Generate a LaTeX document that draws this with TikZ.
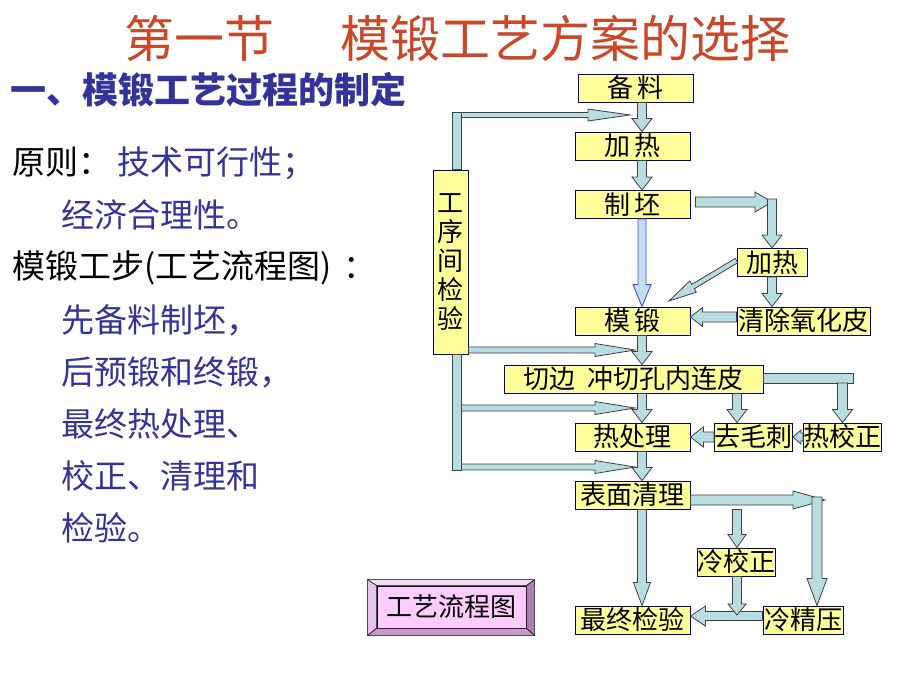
\documentclass[tikz,border=0pt]{standalone}
\usepackage{fontspec}
\setmainfont{Noto Sans CJK SC}
\usetikzlibrary{calc}
\definecolor{titlered}{RGB}{200,72,40}
\definecolor{txtblue}{RGB}{51,51,153}
\definecolor{boxfill}{RGB}{255,255,153}
\definecolor{boxline}{RGB}{0,0,128}
\definecolor{arrfill}{RGB}{183,221,226}
\definecolor{arrline}{RGB}{64,64,64}
\definecolor{arrblue}{RGB}{60,80,230}
\definecolor{arrfillb}{RGB}{195,222,240}
\definecolor{btnfill}{RGB}{255,204,255}
\definecolor{btntop}{RGB}{247,218,247}
\definecolor{btnleft}{RGB}{235,196,235}
\definecolor{btnright}{RGB}{175,125,175}
\definecolor{btnbottom}{RGB}{200,152,200}

% block arrow: [style]{from}{to}{half shaft}{half head}{head length}
\newcommand{\blockarrow}[6][fat]{%
  \coordinate (ba-a) at #2;
  \coordinate (ba-b) at #3;
  \coordinate (ba-c) at ($(ba-b)!#6pt!(ba-a)$);
  \filldraw[#1] ($(ba-a)!#4pt!90:(ba-b)$) -- ($(ba-c)!#4pt!90:(ba-b)$)
    -- ($(ba-c)!#5pt!90:(ba-b)$) -- (ba-b) -- ($(ba-c)!#5pt!-90:(ba-b)$)
    -- ($(ba-c)!#4pt!-90:(ba-b)$) -- ($(ba-a)!#4pt!-90:(ba-b)$) -- cycle;
}

\begin{document}
\begin{tikzpicture}[
        x=1pt, y=-1pt,
        box/.style={rectangle, draw=boxline, fill=boxfill, line width=0.9pt, inner sep=0pt, minimum height=28pt, minimum width=115pt, font=\fontsize{26}{29}\selectfont},
        fat/.style={draw=arrline, fill=arrfill, line width=0.8pt},
        bluearr/.style={draw=arrblue, fill=arrfillb, line width=0.9pt},
        lefttext/.style={anchor=west, inner sep=0pt, font=\fontsize{33}{40}\selectfont},
        btnbox/.style={rectangle, draw=black, fill=btnfill, line width=0.6pt, inner sep=0pt, minimum width=149pt, minimum height=42pt, font=\fontsize{26}{29}\selectfont}
    ]
        \useasboundingbox[fill=white] (0,0) rectangle (920,690);

        \node[font=\fontsize{50}{56}\selectfont, text=titlered] (title) at (457,38) {第一节\hspace{66pt}模锻工艺方案的选择};
        \node[anchor=west, inner sep=0pt, text=txtblue, font=\fontsize{36}{40}\selectfont\bfseries] (sub) at (10,90) {一、模锻工艺过程的制定};

        \node[lefttext] (l1) at (12,163) {原则：\hspace{6pt}{\color{txtblue}技术可行性；}};
        \node[lefttext, text=txtblue] (l2) at (61,215) {经济合理性。};
        \node[lefttext] (l3) at (12,268) {模锻工步(工艺流程图)\hspace{12pt}：};
        \node[lefttext, text=txtblue] (l4) at (61,320) {先备料制坯，};
        \node[lefttext, text=txtblue] (l5) at (61,372) {后预锻和终锻，};
        \node[lefttext, text=txtblue] (l6) at (61,424) {最终热处理、};
        \node[lefttext, text=txtblue] (l7) at (61,476) {校正、清理和};
        \node[lefttext, text=txtblue] (l8) at (61,528) {检验。};

        \node[box, minimum width=115pt] (bl) at (635.5,88) {备\,料};
        \node[box] (jr) at (632.5,146) {加\,热};
        \node[box] (zp) at (632.5,204.5) {制\,坯};
        \node[box, minimum width=35pt, minimum height=184pt, align=center] (jy) at (450.5,262) {工\\序\\间\\检\\验};
        \node[box, minimum width=70pt] (jr2) at (772,262.5) {加热};
        \node[box] (md) at (632.5,321) {模\,锻};
        \node[box, minimum width=133pt] (qc) at (803.5,321) {清除氧化皮};
        \node[box, minimum width=259pt] (qb) at (633.5,379) {切边\hspace{12pt}冲切孔内连皮};
        \node[box] (rc) at (632.5,437) {热处理};
        \node[box, minimum width=71pt] (qm) at (753.5,437) {去毛刺};
        \node[box, minimum width=71pt] (rj) at (842.5,437) {热校正};
        \node[box] (bm) at (632.5,495) {表面清理};
        \node[box, minimum width=73pt] (lj) at (736.5,562) {冷校正};
        \node[box] (zj) at (632.5,620) {最终检验};
        \node[box, minimum width=80pt] (lp) at (803,620) {冷精压};

        \coordinate (mx) at (642,0);
        \coordinate (rx) at (737,0);
        \coordinate (c1) at (772,202);
        \coordinate (c2) at (669,301);
        \coordinate (c3) at (630,115);
        \coordinate (c4) at (635,350);
        \coordinate (c5) at (635,408);
        \coordinate (c6) at (635,467);
        \coordinate (c7) at (817,497);
        \coordinate (c8) at (825,500);
        \coordinate (c9) at (737,615);
        \coordinate (c10) at (853,383);
        \coordinate (fb1) at (456.5,112);
        \coordinate (fb2) at (456.5,470);

        \blockarrow{(bl.south -| mx)}{(jr.north -| mx)}{4.5}{10}{13}
        \blockarrow{(jr.south -| mx)}{(zp.north -| mx)}{4.5}{10}{13}
        \blockarrow[bluearr]{(zp.south -| mx)}{(md.north -| mx)}{4}{9}{22}
        \blockarrow{(md.south -| mx)}{(qb.north -| mx)}{4.5}{10}{13}
        \blockarrow{(qb.south -| mx)}{(rc.north -| mx)}{4.5}{10}{13}
        \blockarrow{(rc.south -| mx)}{(bm.north -| mx)}{4.5}{10}{13}
        \blockarrow{(bm.south -| mx)}{(zj.north -| mx)}{4.5}{8.5}{23}

        \blockarrow{($(zp.east |- c1)+(5,0)$)}{(c1)}{5}{10}{17}
        \blockarrow{($(c1)+(0,-3)$)}{(jr2.north)}{4.5}{10}{13}
        \blockarrow{($(jr2.west)+(0,-2)$)}{(c2)}{2.5}{6.5}{28}
        \blockarrow{(jr2.south)}{(jr2 |- qc.north)}{4.5}{10}{13}
        \blockarrow{($(qc.west)+(0,-4)$)}{($(md.east)+(0,-4)$)}{5}{9.5}{12}

        \blockarrow{(fb1 |- c3)}{(c3)}{2.5}{6}{42}
        \blockarrow{(jy.east |- c4)}{(c4)}{3}{6.5}{40}
        \blockarrow{(fb2 |- c5)}{(c5)}{3}{6.5}{40}
        \blockarrow{(fb2 |- c6)}{(c6)}{3}{6.5}{40}
        \filldraw[fat] ($(fb1)+(-4.5,0)$) rectangle ($(jy.north -| fb1)+(4.5,0)$);
        \filldraw[fat] ($(jy.south -| fb1)+(-4.5,0)$) rectangle ($(fb2)+(4.5,0)$);

        \blockarrow{(qb.south -| rx)}{(qm.north -| rx)}{4.5}{10}{13}
        \filldraw[fat] ($(qb.east)+(0,-6)$) rectangle (c10);
        \blockarrow{(rj.north |- c10)}{(rj.north)}{5}{10}{13}
        \blockarrow{(rj.west)}{(qm.east)}{4}{7}{8}
        \blockarrow{(qm.west)}{(rc.east)}{5}{10}{13}

        \blockarrow{(bm.east |- c8)}{(c8)}{5}{9}{32}
        \blockarrow{(c7)}{(c7 |- lp.north)}{5}{10}{27}
        \blockarrow{(bm.south -| rx)}{(lj.north -| rx)}{4.5}{9}{13}
        \blockarrow{($(lp.west)+(0,-4)$)}{($(zj.east)+(0,-4)$)}{4.5}{10}{15}
        \blockarrow{(lj.south -| rx)}{(c9)}{4.5}{9}{11}

        \node[btnbox] (btn) at (451.5,607) {工艺流程图};
        \filldraw[fill=btntop, draw=black, line width=0.5pt] ($(btn.north west)+(-9,-6)$) -- ($(btn.north east)+(8,-6)$) -- (btn.north east) -- (btn.north west) -- cycle;
        \filldraw[fill=btnleft, draw=black, line width=0.5pt] ($(btn.north west)+(-9,-6)$) -- (btn.north west) -- (btn.south west) -- ($(btn.south west)+(-9,7)$) -- cycle;
        \filldraw[fill=btnright, draw=black, line width=0.5pt] ($(btn.north east)+(8,-6)$) -- (btn.north east) -- (btn.south east) -- ($(btn.south east)+(8,7)$) -- cycle;
        \filldraw[fill=btnbottom, draw=black, line width=0.5pt] ($(btn.south west)+(-9,7)$) -- ($(btn.south east)+(8,7)$) -- (btn.south east) -- (btn.south west) -- cycle;
\end{tikzpicture}
\end{document}
